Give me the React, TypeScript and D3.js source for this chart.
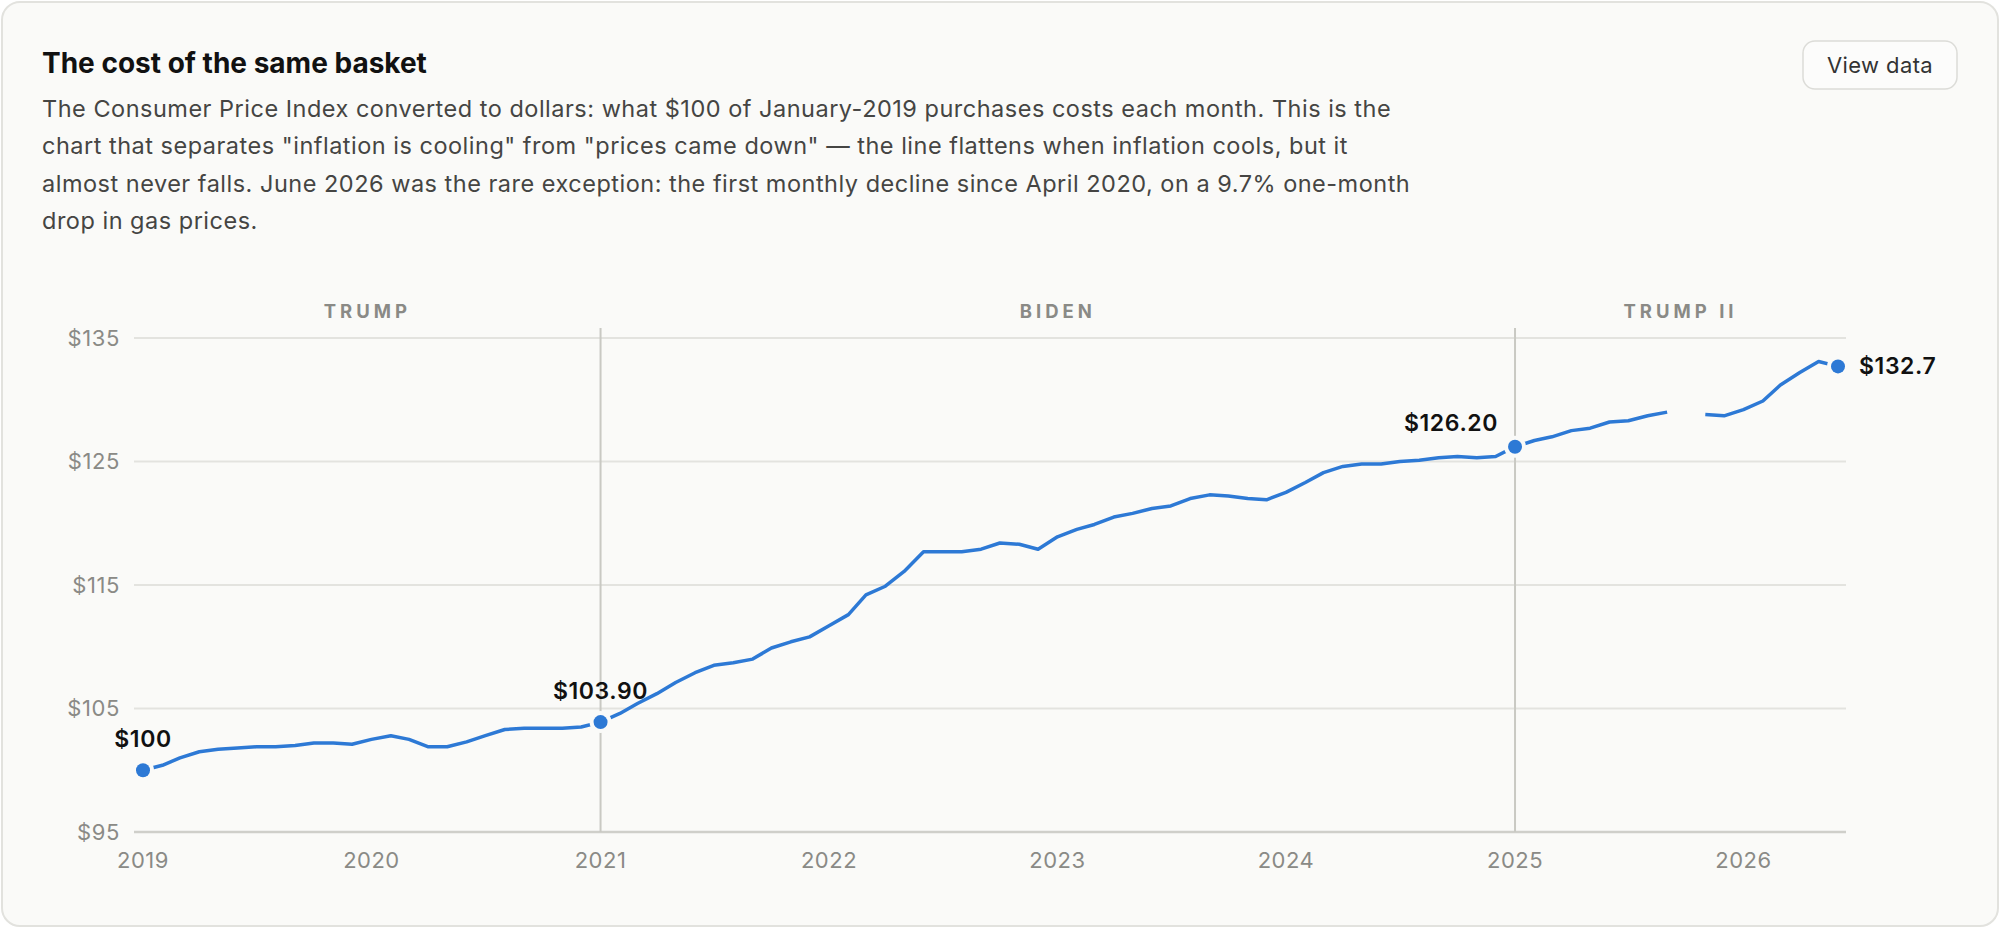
import React from "react";
import * as d3 from "d3";

// CPI in dollars: $100 of January-2019 purchases, monthly
const years = [2019, 2020, 2021, 2022, 2023, 2024, 2025, 2026];
const cpi2019 = [100.0, 100.4, 101.0, 101.5, 101.7, 101.8, 101.9, 101.9, 102.0, 102.2, 102.2, 102.1];
const cpi2020 = [102.5, 102.8, 102.5, 101.9, 101.9, 102.3, 102.8, 103.3, 103.4, 103.4, 103.4, 103.5];
const cpi2021 = [103.9, 104.6, 105.4, 106.2, 107.1, 107.9, 108.5, 108.7, 109.0, 109.9, 110.4, 110.8];
const cpi2022 = [111.7, 112.6, 114.2, 114.9, 116.1, 117.7, 117.7, 117.7, 117.9, 118.4, 118.3, 117.9];
const cpi2023 = [118.9, 119.5, 119.9, 120.5, 120.8, 121.2, 121.4, 122.0, 122.3, 122.2, 122.0, 121.9];
const cpi2024 = [122.5, 123.3, 124.1, 124.6, 124.8, 124.8, 125.0, 125.1, 125.3, 125.4, 125.3, 125.4];
const cpi2025 = [126.2, 126.7, 127.0, 127.5, 127.7, 128.2, 128.3, 128.7, 129.0, null, 128.8, 128.7];
const cpi2026 = [129.2, 129.9, 131.2, 132.2, 133.1, 132.7];
const seriesByYear = [cpi2019, cpi2020, cpi2021, cpi2022, cpi2023, cpi2024, cpi2025, cpi2026];

const yTicks = [95, 105, 115, 125, 135];
const eras = [
  { name: "TRUMP", start: "2019-01", end: "2021-01" },
  { name: "BIDEN", start: "2021-01", end: "2025-01" },
  { name: "TRUMP II", start: "2025-01", end: "2026-06" },
];
const eraBreaks = ["2021-01", "2025-01"];
const callouts = [
  { date: "2019-01", text: "$100", pos: "above" },
  { date: "2021-01", text: "$103.90", pos: "above" },
  { date: "2025-01", text: "$126.20", pos: "left" },
  { date: "2026-06", text: "$132.7", pos: "right" },
];

const description = [
  "The Consumer Price Index converted to dollars: what $100 of January-2019 purchases costs each month. This is the",
  "chart that separates \"inflation is cooling\" from \"prices came down\" \u2014 the line flattens when inflation cools, but it",
  "almost never falls. June 2026 was the rare exception: the first monthly decline since April 2020, on a 9.7% one-month",
  "drop in gas prices.",
];

interface Point {
  date: Date;
  value: number | null;
}

const parseMonth = d3.timeParse("%Y-%m");
const data: Point[] = seriesByYear.flatMap((vals, i) =>
  vals.map((v, m) => ({ date: new Date(years[i], m, 1), value: v }))
);

const W = 2000;
const H = 928;
const FONT = "Inter, 'Helvetica Neue', Arial, sans-serif";
const BLUE = "#2d79d5";
const BG = "#fafaf8";
const GREY = "#8a8a86";

export default function App() {
  const plotLeft = 134;
  const plotRight = 1846;

  const x = d3
    .scaleTime()
    .domain([new Date(2019, 0, 1), new Date(2026, 5, 1)])
    .range([143, 1838]);
  const y = d3.scaleLinear().domain([95, 135]).range([832, 338]);

  const line = d3
    .line<Point>()
    .defined((d) => d.value !== null)
    .x((d) => x(d.date))
    .y((d) => y(d.value as number));

  const valueAt = (key: string) => {
    const dt = parseMonth(key)!;
    const p = data.find((d) => d.date.getTime() === dt.getTime());
    return { dt, v: p ? (p.value as number) : 0 };
  };

  return (
    <div style={{ position: "absolute", left: 0, top: 0 }}>
      <svg width={W} height={H} style={{ display: "block", fontFamily: FONT }}>
        <rect x={0} y={0} width={W} height={H} fill="#ffffff" />
        <rect x={2} y={2} width={W - 4} height={H - 4} rx={18} fill={BG} stroke="#e2e2de" strokeWidth={2} />

        {/* header */}
        <text x={42} y={73} fontSize={28} fontWeight={700} fill="#111">
          The cost of the same basket
        </text>
        {description.map((l, i) => (
          <text key={i} x={42} y={117 + i * 37.3} fontSize={23.5} letterSpacing={0.5} fill="#454543">
            {l}
          </text>
        ))}
        <rect x={1803} y={41} width={154} height={48} rx={12} fill="#fcfcfb" stroke="#dcdcd8" strokeWidth={1.5} />
        <text x={1880} y={73} fontSize={22} letterSpacing={0.4} textAnchor="middle" fill="#333">
          View data
        </text>

        {/* grid */}
        {yTicks.map((t) => (
          <g key={t}>
            <line
              x1={plotLeft}
              x2={plotRight}
              y1={y(t)}
              y2={y(t)}
              stroke={t === 95 ? "#cfcfca" : "#e3e3df"}
              strokeWidth={t === 95 ? 2.5 : 1.8}
            />
            <text x={120} y={y(t)} dy="0.35em" fontSize={22} letterSpacing={0.6} textAnchor="end" fill={GREY}>
              ${t}
            </text>
          </g>
        ))}
        {eraBreaks.map((k) => (
          <line
            key={k}
            x1={x(parseMonth(k)!)}
            x2={x(parseMonth(k)!)}
            y1={328}
            y2={y(95)}
            stroke="#c9c9c3"
            strokeWidth={2}
          />
        ))}
        {eras.map((e) => {
          const a = e.start === "2019-01" ? plotLeft : x(parseMonth(e.start)!);
          const b = e.end === "2026-06" ? plotRight : x(parseMonth(e.end)!);
          return (
            <text
              key={e.name}
              x={(a + b) / 2}
              y={318}
              fontSize={18.5}
              fontWeight={700}
              letterSpacing={4}
              textAnchor="middle"
              fill={GREY}
            >
              {e.name}
            </text>
          );
        })}
        {years.map((yr) => (
          <text key={yr} x={x(new Date(yr, 0, 1))} y={868} fontSize={22} letterSpacing={0.5} textAnchor="middle" fill={GREY}>
            {yr}
          </text>
        ))}

        {/* series */}
        <path d={line(data) || ""} fill="none" stroke={BLUE} strokeWidth={3.5} strokeLinejoin="round" strokeLinecap="butt" />

        {callouts.map((c) => {
          const { dt, v } = valueAt(c.date);
          const cx = x(dt);
          const cy = y(v);
          let tx = cx;
          let ty = cy - 23;
          let anchor: "middle" | "end" | "start" = "middle";
          if (c.pos === "left") {
            tx = cx - 17;
            ty = cy - 16;
            anchor = "end";
          } else if (c.pos === "right") {
            tx = cx + 21;
            ty = cy + 8;
            anchor = "start";
          }
          return (
            <g key={c.date}>
              <circle cx={cx} cy={cy} r={11} fill={BG} />
              <circle cx={cx} cy={cy} r={7} fill={BLUE} />
              <text x={tx} y={ty} fontSize={23} fontWeight={600} letterSpacing={0.6} textAnchor={anchor} fill="#111">
                {c.text}
              </text>
            </g>
          );
        })}
      </svg>
    </div>
  );
}
